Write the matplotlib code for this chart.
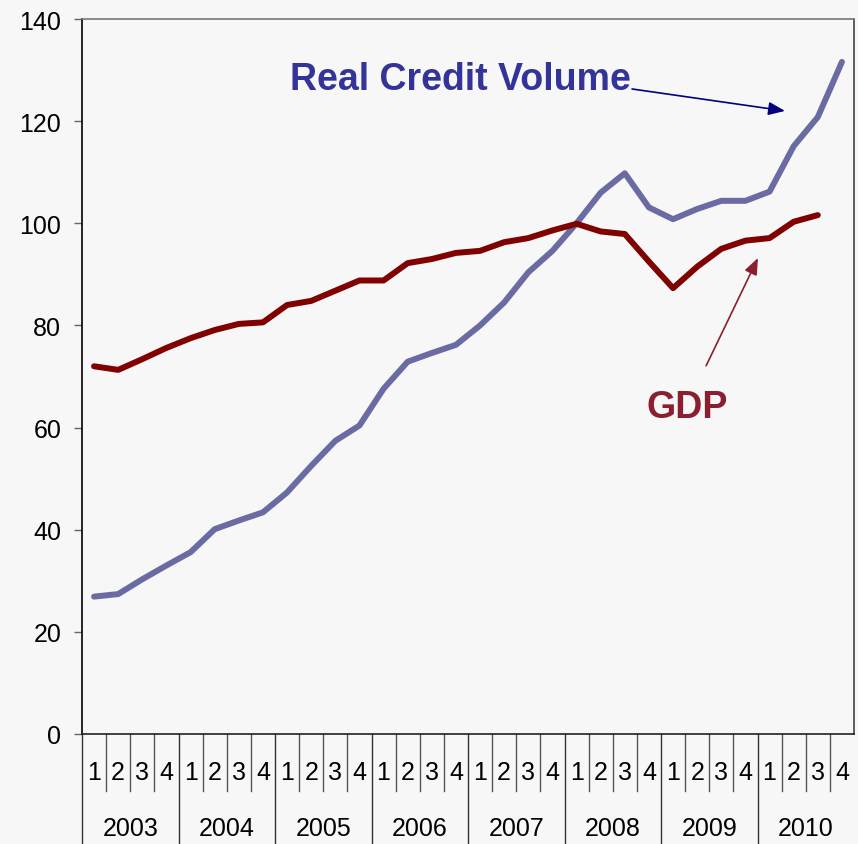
import numpy as np
import matplotlib.pyplot as plt

plt.rcParams['font.family'] = ['Liberation Sans', 'DejaVu Sans']

# quarterly index values, 2003Q1 - 2010Q4
years = ['2003', '2004', '2005', '2006', '2007', '2008', '2009', '2010']
quarters = ['1', '2', '3', '4']
credit = [26.9, 27.4, 30.3, 33.0, 35.6, 40.1, 41.8, 43.4,
          47.3, 52.5, 57.4, 60.4, 67.6, 72.9, 74.6, 76.2,
          80.0, 84.5, 90.4, 94.6, 100.0, 106.0, 109.8, 103.1,
          100.8, 102.8, 104.4, 104.4, 106.2, 115.1, 120.8, 131.6]
gdp = [72.0, 71.3, 73.4, 75.6, 77.5, 79.1, 80.3, 80.6,
       84.0, 84.8, 86.8, 88.8, 88.8, 92.2, 93.0, 94.2,
       94.6, 96.3, 97.1, 98.6, 99.9, 98.4, 97.9, 92.5,
       87.3, 91.5, 95.0, 96.6, 97.1, 100.3, 101.6]

bg = '#f7f7f7'
fig = plt.figure(figsize=(8.58, 8.45), dpi=100, facecolor=bg)
ax = fig.add_axes([82 / 858, 110 / 845, 772 / 858, 715 / 845])
ax.set_facecolor(bg)

n = len(years) * len(quarters)
ax.plot(np.arange(len(credit)), credit, color='#6b6ba3', lw=4.3, solid_capstyle='round')
ax.plot(np.arange(len(gdp)), gdp, color='#800000', lw=4.3, solid_capstyle='round')

ax.set_xlim(-0.5, n - 0.5)
ax.set_ylim(0, 140)
ax.set_yticks(range(0, 141, 20))
ax.tick_params(axis='y', length=6, width=1, color='#666666', labelsize=18, pad=9)
ax.set_xticks([])
ax.spines['left'].set_color('black')
ax.spines['bottom'].set_color('#222222')
ax.spines['top'].set_color('#777777')
ax.spines['right'].set_color('#444444')
for s in ax.spines.values():
    s.set_linewidth(1.2)

# two-level category axis: quarters above, years below
tr = ax.get_xaxis_transform()
for i in range(n):
    ax.text(i, -0.053, quarters[i % 4], transform=tr, ha='center', va='center', fontsize=18)
    if i % 4 == 0:
        ax.plot([i - 0.5, i - 0.5], [0, -0.154], transform=tr, color='#333333', lw=1, clip_on=False)
    else:
        ax.plot([i - 0.5, i - 0.5], [0, -0.08], transform=tr, color='#555555', lw=1, clip_on=False)
for k, y in enumerate(years):
    ax.text(4 * k + 1.5, -0.132, y, transform=tr, ha='center', va='center', fontsize=18)

# labels with arrows
ax.text(15.2, 128.3, 'Real Credit Volume', color='#333399', fontsize=27,
        fontweight='bold', ha='center', va='center')
ax.annotate('', xy=(28.64, 122.0), xytext=(22.3, 126.3),
            arrowprops=dict(arrowstyle='-|>,head_length=1.0,head_width=0.4',
                            color='#000080', lw=1.2, shrinkA=0, shrinkB=0))
ax.text(24.6, 64.0, 'GDP', color='#8b1f30', fontsize=27,
        fontweight='bold', ha='center', va='center')
ax.annotate('', xy=(27.52, 93.2), xytext=(25.37, 72.1),
            arrowprops=dict(arrowstyle='-|>,head_length=1.0,head_width=0.4',
                            color='#8b1f30', lw=1.2, shrinkA=0, shrinkB=0))

fig.savefig('out.png', dpi=100, facecolor=bg)
